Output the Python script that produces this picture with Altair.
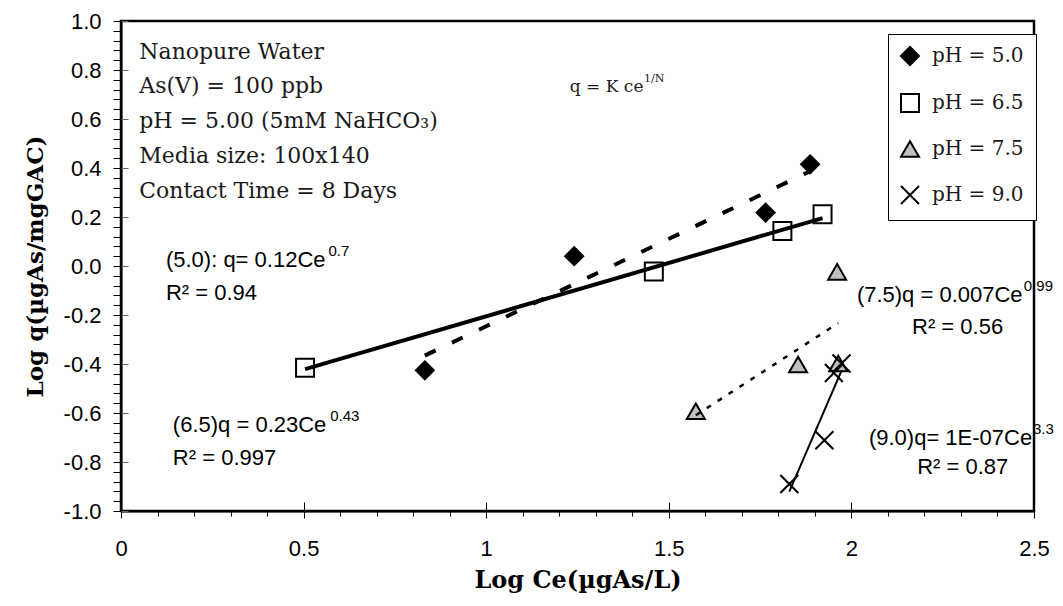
import altair as alt
import pandas as pd

# ---------------- data ----------------
series_names = ["pH = 5.0", "pH = 6.5", "pH = 7.5", "pH = 9.0"]
ph50_x = [0.832, 1.241, 1.765, 1.887]
ph50_y = [-0.426, 0.040, 0.218, 0.415]
ph65_x = [0.504, 1.459, 1.811, 1.921]
ph65_y = [-0.415, -0.022, 0.143, 0.211]
ph75_x = [1.574, 1.854, 1.964, 1.961]
ph75_y = [-0.593, -0.402, -0.398, -0.024]
ph90_x = [1.830, 1.926, 1.952, 1.973]
ph90_y = [-0.890, -0.711, -0.437, -0.398]

x_major = [0, 0.5, 1, 1.5, 2, 2.5]
x_minor = [round(i * 0.1, 1) for i in range(26) if i % 5 != 0]
y_major = [round(-1 + 0.2 * i, 1) for i in range(11)]
y_all = [round(-1 + 0.04 * i, 2) for i in range(51)]

block_text = ["Nanopure Water", "As(V) = 100 ppb", "pH = 5.00 (5mM NaHCO\u2083)",
              "Media size: 100x140", "Contact Time = 8 Days"]
block_x = [0.05, 0.05, 0.05, 0.05, 0.05]
block_y = [0.875, 0.735, 0.59, 0.45, 0.305]

formula_text = ["q = K ce"]
formula_x = [1.229]
formula_y = [0.73]
formula_sup_text = ["1/N"]
formula_sup_x = [1.432]
formula_sup_y = [0.765]

eq_text = ["(5.0): q= 0.12Ce", "R\u00b2 = 0.94", "(6.5)q = 0.23Ce", "R\u00b2 = 0.997",
           "(7.5)q = 0.007Ce", "R\u00b2 = 0.56", "(9.0)q= 1E-07Ce", "R\u00b2 = 0.87"]
eq_x = [0.123, 0.123, 0.142, 0.142, 2.015, 2.166, 2.048, 2.180]
eq_y = [0.023, -0.111, -0.650, -0.785, -0.120, -0.250, -0.703, -0.822]
sup_text = ["0.7", "0.43", "0.99", "3.3"]
sup_x = [0.568, 0.573, 2.472, 2.497]
sup_y = [0.060, -0.613, -0.083, -0.667]

# ---------------- tables ----------------
rows = []
for name, xs, ys in zip(series_names, [ph50_x, ph65_x, ph75_x, ph90_x],
                        [ph50_y, ph65_y, ph75_y, ph90_y]):
    for a, b in zip(xs, ys):
        rows.append({"series": name, "x": a, "y": b})
df = pd.DataFrame(rows)

block_df = pd.DataFrame({"t": block_text, "x": block_x, "y": block_y})
formula_df = pd.DataFrame({"t": formula_text, "x": formula_x, "y": formula_y})
formula_sup_df = pd.DataFrame({"t": formula_sup_text, "x": formula_sup_x, "y": formula_sup_y})
eq_df = pd.DataFrame({"t": eq_text, "x": eq_x, "y": eq_y})
sup_df = pd.DataFrame({"t": sup_text, "x": sup_x, "y": sup_y})

xscale = alt.Scale(domain=[0, 2.5], nice=False, zero=False)
yscale = alt.Scale(domain=[-1, 1], nice=False, zero=False)

SANS = "Liberation Sans"
SERIF = "DejaVu Serif"

x_main = alt.Axis(values=x_major, format="~g", orient="bottom", grid=False,
                  labelFont=SANS, labelFontSize=22, labelColor="black",
                  labelFlush=False, labelOverlap=False, labelPadding=20,
                  tickSize=7, tickColor="black", tickWidth=1,
                  domainColor="black", domainWidth=2,
                  title="Log Ce(\u00b5gAs/L)", titleFont=SERIF, titleFontSize=24,
                  titleFontWeight="bold", titleColor="black", titlePadding=9)
y_main = alt.Axis(values=y_all, orient="left", grid=False,
                  labelExpr="abs(datum.value*5 - round(datum.value*5)) < 0.001 ? ((datum.value < -0.001 ? '-' : '') + format(abs(datum.value), '.1f')) : ''",
                  labelFont=SANS, labelFontSize=22, labelColor="black",
                  labelFlush=False, labelOverlap=False, labelPadding=12,
                  tickSize=8, tickColor="black", tickWidth=1,
                  domainColor="black", domainWidth=2,
                  title="Log q(\u00b5gAs/mgGAC)", titleFont=SERIF, titleFontSize=23,
                  titleFontWeight="bold", titleColor="black", titlePadding=16)

x_minor_axis = alt.Axis(values=x_minor, orient="bottom", grid=False, labels=False,
                        domain=False, tickSize=5, tickColor="black", tickWidth=1, title="")
y_minor_axis = alt.Axis(values=y_major, orient="left", grid=False, labels=False,
                        domain=False, tickSize=7, tickColor="#666666", tickWidth=1,
                        title="", offset=-7)
x_inner_axis = alt.Axis(values=x_major, orient="bottom", grid=False, labels=False,
                        domain=False, tickSize=9, tickColor="black", tickWidth=1,
                        title="", offset=-9)

leg = alt.Legend(title=None, orient="none", legendX=767, legendY=13,
                 direction="vertical", fillColor="white", strokeColor="black",
                 padding=12, rowPadding=21, symbolSize=324,
                 symbolStrokeWidth=2, labelFont=SERIF, labelFontSize=20,
                 labelColor="#1a1a1a", labelOffset=12)

shape_scale = alt.Scale(domain=series_names,
                        range=["diamond", "square", "triangle-up", "M-1,-1L1,1M-1,1L1,-1"])
fill_scale = alt.Scale(domain=series_names,
                       range=["black", "white", "#c0c0c0", "transparent"])
stroke_scale = alt.Scale(domain=series_names, range=["black", "black", "black", "black"])

base = alt.Chart(df)

points = base.mark_point(filled=True, size=324, strokeWidth=2, opacity=1).encode(
    x=alt.X("x:Q", scale=xscale, axis=x_main),
    y=alt.Y("y:Q", scale=yscale, axis=y_main),
    shape=alt.Shape("series:N", scale=shape_scale, legend=leg),
    fill=alt.Fill("series:N", scale=fill_scale, legend=leg),
    stroke=alt.Stroke("series:N", scale=stroke_scale, legend=leg),
)


def reg_line(name, xaxis, yaxis, **style):
    return base.transform_filter(alt.datum.series == name).transform_regression(
        "x", "y").mark_line(color="black", **style).encode(
        x=alt.X("x:Q", scale=xscale, axis=xaxis),
        y=alt.Y("y:Q", scale=yscale, axis=yaxis),
    )


line50 = reg_line("pH = 5.0", x_minor_axis, y_minor_axis, strokeWidth=4, strokeDash=[12, 18])
line65 = reg_line("pH = 6.5", x_inner_axis, None, strokeWidth=4)
line75 = reg_line("pH = 7.5", None, None, strokeWidth=2.5, strokeDash=[5, 8])
line90 = reg_line("pH = 9.0", None, None, strokeWidth=2)


def text_layer(data, font, size, color="black", weight="normal"):
    return alt.Chart(data).mark_text(align="left", baseline="middle", font=font,
                                     fontSize=size, color=color, fontWeight=weight).encode(
        x=alt.X("x:Q", scale=xscale, axis=None),
        y=alt.Y("y:Q", scale=yscale, axis=None),
        text="t:N",
    )


t_block = text_layer(block_df, SERIF, 22, "#1a1a1a")
t_formula = text_layer(formula_df, SERIF, 17, "#1a1a1a")
t_formula_sup = text_layer(formula_sup_df, SERIF, 11, "#1a1a1a")
t_eq = text_layer(eq_df, SANS, 22)
t_sup = text_layer(sup_df, SANS, 15)

chart = alt.layer(points, line50, line65, line75, line90,
                  t_block, t_formula, t_formula_sup, t_eq, t_sup).resolve_axis(
    x="independent", y="independent"
).properties(
    width=913, height=490,
    autosize=alt.AutoSizeParams(type="none"),
    padding={"left": 121, "top": 21, "right": 29, "bottom": 95},
    background="white",
).configure_view(stroke="black", strokeWidth=2.5)

chart.save("out.html", embed_options={"renderer": "svg", "actions": False})
